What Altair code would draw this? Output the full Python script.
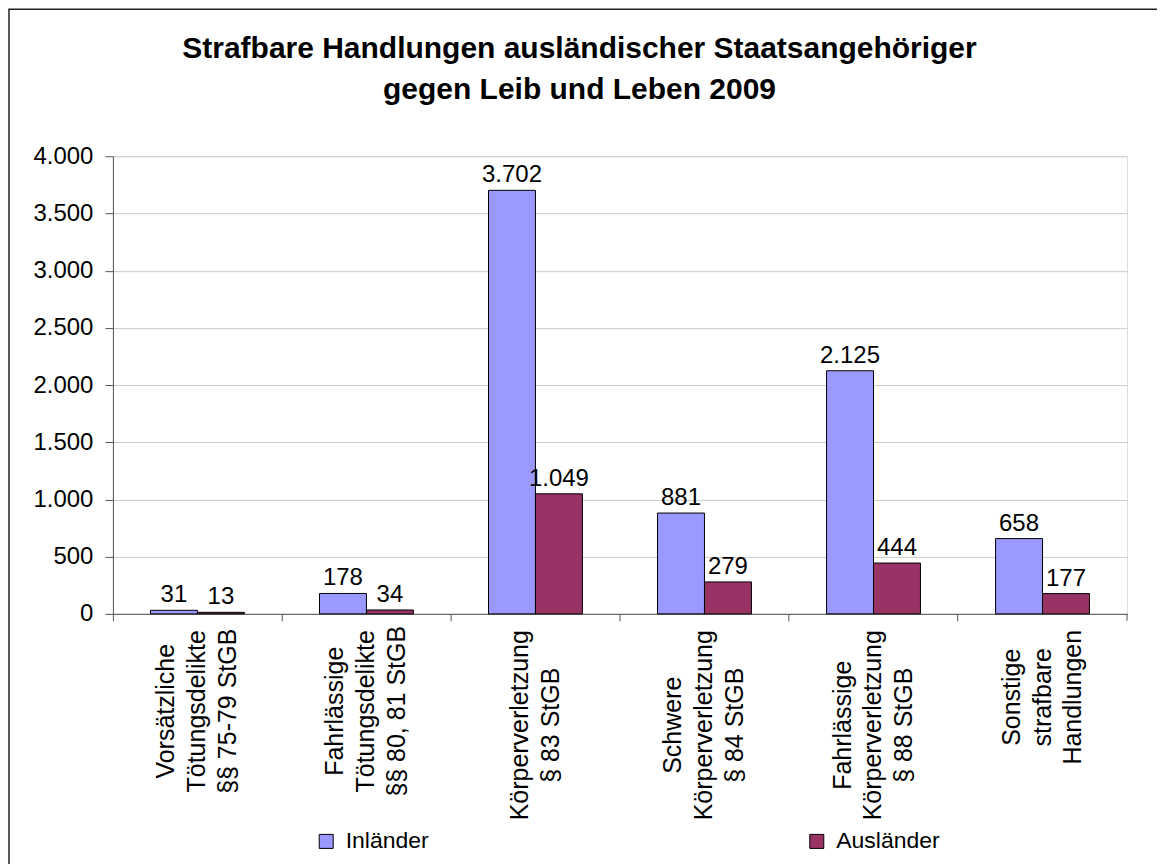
import altair as alt
import pandas as pd

# ---- data ----
categories = [
    "Vorsätzliche|Tötungsdelikte|§§ 75-79 StGB",
    "Fahrlässige|Tötungsdelikte|§§ 80, 81 StGB",
    "Körperverletzung|§ 83 StGB",
    "Schwere|Körperverletzung|§ 84 StGB",
    "Fahrlässige|Körperverletzung|§ 88 StGB",
    "Sonstige|strafbare|Handlungen",
]
inlaender = [31, 178, 3702, 881, 2125, 658]
auslaender = [13, 34, 1049, 279, 444, 177]
series = ["Inländer", "Ausländer"]
colors = ["#9999FF", "#993366"]
y_ticks = [0, 500, 1000, 1500, 2000, 2500, 3000, 3500, 4000]
title_lines = ["Strafbare Handlungen ausländischer Staatsangehöriger",
               "gegen Leib und Leben 2009"]

rows = []
for c, a, b in zip(categories, inlaender, auslaender):
    rows.append({"Kategorie": c, "Gruppe": series[0], "Wert": a})
    rows.append({"Kategorie": c, "Gruppe": series[1], "Wert": b})
df = pd.DataFrame(rows)

FONT = "Liberation Sans"
W, H = 1015, 458

x_enc = alt.X(
    "Kategorie:N",
    sort=categories,
    scale=alt.Scale(paddingInner=0, paddingOuter=0),
    axis=alt.Axis(
        title=None,
        labelExpr="split(datum.label, '|')",
        labelAngle=-90,
        labelAlign="center",
        labelBaseline="middle",
        labelFontSize=25,
        labelLineHeight=31,
        labelLimit=0,
        labelColor="#000000",
        labelFont=FONT,
        labelPadding={
            "condition": [
                {"test": "indexof(datum.value, 'Tötungsdelikte') >= 0", "value": 90},
                {"test": "indexof(datum.value, 'Handlungen') >= 0", "value": 76},
            ],
            "value": 104,
        },
        labelOffset={
            "condition": {"test": "indexof(datum.value, 'Körperverletzung|') == 0",
                          "value": -15.5},
            "value": -31,
        },
        bandPosition=0,
        tickSize=7,
        tickColor="#555555",
        domainColor="#555555",
        grid=False,
    ),
)
xoff_enc = alt.XOffset("Gruppe:N", sort=series,
                       scale=alt.Scale(paddingInner=0, paddingOuter=0.8))
y_enc = alt.Y(
    "Wert:Q",
    scale=alt.Scale(domain=[0, 4000], nice=False),
    axis=alt.Axis(
        title=None,
        values=y_ticks,
        labelExpr="replace(format(datum.value, ','), ',', '.')",
        labelFontSize=24,
        labelFont=FONT,
        labelColor="#000000",
        labelPadding=12,
        tickSize=8,
        tickColor="#555555",
        domainColor="#555555",
        gridColor="#cccccc",
    ),
)

base = alt.Chart(df).encode(x=x_enc, xOffset=xoff_enc, y=y_enc)

bars = base.mark_bar(stroke="#000000", strokeWidth=1).encode(
    color=alt.Color(
        "Gruppe:N",
        sort=series,
        scale=alt.Scale(domain=series, range=colors),
        legend=alt.Legend(
            title=None,
            orient="none",
            legendX=202,
            legendY=674,
            direction="horizontal",
            columns=2,
            columnPadding=376,
            symbolType="square",
            symbolSize=196,
            symbolStrokeColor="#000000",
            symbolStrokeWidth=1,
            symbolOpacity=1,
            labelFontSize=23,
            labelFont=FONT,
            labelColor="#000000",
            labelOffset=8,
            padding=0,
        ),
    )
)

labels = base.transform_calculate(
    txt="replace(format(datum.Wert, ','), ',', '.')"
).mark_text(
    baseline="alphabetic", dy=-8, fontSize=24, font=FONT, color="#000000"
).encode(text="txt:N")

one = pd.DataFrame({"k": [0]})

border = alt.Chart(one).mark_rect(
    fillOpacity=0, stroke="#222222", strokeWidth=1.5
).encode(
    x=alt.value(-104), x2=alt.value(3000), y=alt.value(-147), y2=alt.value(3000)
)

end_tick = alt.Chart(one).mark_rule(color="#555555", strokeWidth=1).encode(
    x=alt.value(W), y=alt.value(H), y2=alt.value(H + 7)
)

title = alt.Chart(one).mark_text(
    text=title_lines,
    font=FONT,
    fontSize=30,
    fontWeight="bold",
    color="#000000",
    align="center",
    baseline="alphabetic",
    lineHeight=41,
).encode(x=alt.value(467), y=alt.value(-98))

chart = alt.layer(border, bars, labels, end_tick, title).properties(
    width=W,
    height=H,
    padding={"left": 105, "top": 148, "right": 30, "bottom": 250},
    autosize=alt.AutoSizeParams(type="none"),
).configure_view(
    stroke="#999999", strokeWidth=1
).configure(background="white")

chart.save("out.html", embed_options={"renderer": "svg", "actions": False})
